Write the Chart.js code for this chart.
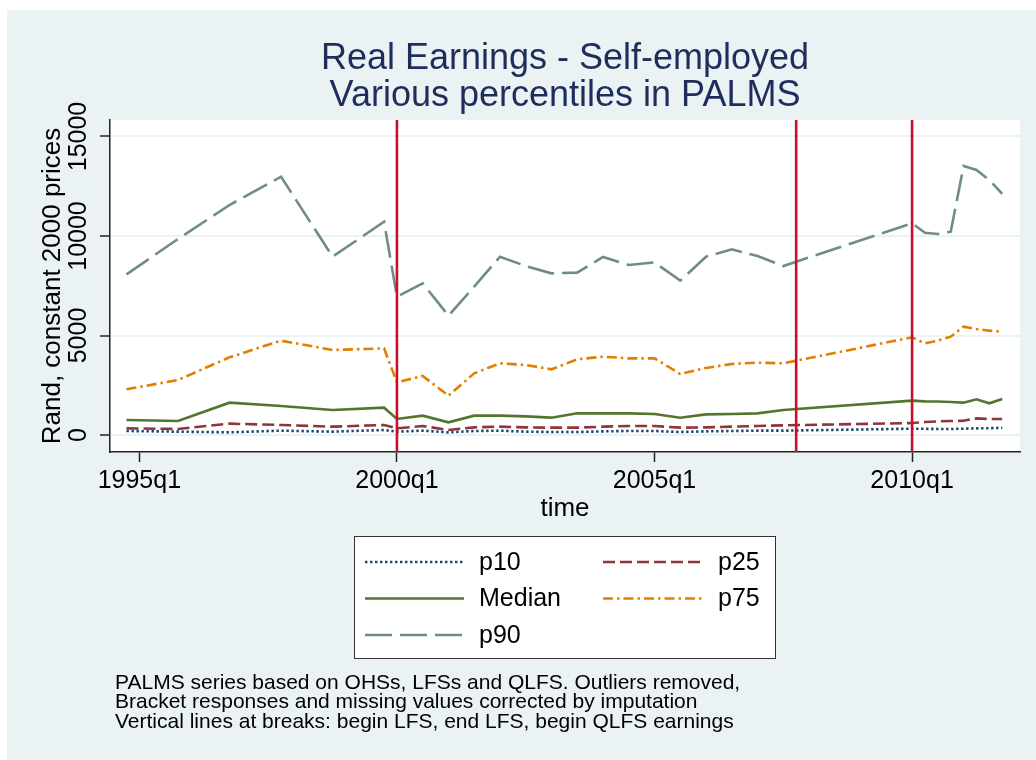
<!DOCTYPE html>
<html>
<head>
<meta charset="utf-8">
<title>Real Earnings - Self-employed</title>
<script src="https://cdn.jsdelivr.net/npm/chart.js@4.4.1/dist/chart.umd.min.js"></script>
<style>
  html, body { margin: 0; padding: 0; background: #fff; }
  #wrap { width: 1036px; height: 760px; }
</style>
</head>
<body>
<div id="wrap"><canvas id="earnCanvas"></canvas></div>
<script>
// survey rounds: OHS yearly, LFS Feb/Sep, QLFS quarterly
var quarters = ['1994q4', '1995q4', '1996q4', '1997q4', '1998q4', '1999q4',
  '2000q1', '2000q3', '2001q1', '2001q3', '2002q1', '2002q3', '2003q1', '2003q3',
  '2004q1', '2004q3', '2005q1', '2005q3', '2006q1', '2006q3', '2007q1', '2007q3',
  '2010q1', '2010q2', '2010q3', '2010q4', '2011q1', '2011q2', '2011q3', '2011q4'];

var p10 = [201, 168, 134, 218, 168, 251,
  168, 218, 134, 201, 218, 168, 151, 151, 184, 201, 201, 151, 184, 201, 218, 218,
  318, 310, 305, 300, 318, 335, 340, 368];
var p25 = [335, 302, 570, 503, 419, 503,
  335, 452, 251, 385, 419, 385, 369, 369, 419, 452, 452, 369, 385, 419, 452, 486,
  600, 653, 687, 700, 720, 837, 804, 804];
var median = [754, 704, 1625, 1457, 1256, 1374,
  804, 972, 636, 972, 972, 938, 871, 1089, 1089, 1089, 1055, 871, 1038, 1055, 1089, 1256,
  1725, 1692, 1680, 1660, 1625, 1792, 1591, 1809];
var p75 = [2295, 2764, 3903, 4740, 4271, 4355,
  2647, 2965, 1976, 3099, 3601, 3518, 3300, 3803, 3936, 3853, 3853, 3065, 3370, 3568, 3635, 3601,
  4909, 4607, 4740, 4941, 5442, 5327, 5243, 5193];
var p90 = [8073, 9849, 11558, 12981, 8961, 10720,
  6951, 7621, 5997, 7454, 8961, 8492, 8124, 8158, 8945, 8543, 8677, 7755, 8961, 9330, 8995, 8492,
  10638, 10166, 10101, 10217, 13518, 13317, 12814, 12111];

// begin LFS, end LFS, begin QLFS earnings
var breaks = ['2000q1', '2007q4', '2010q1'];
var yTicks = [0, 5000, 10000, 15000];
var xTicks = ['1995q1', '2000q1', '2005q1', '2010q1'];

var titleLines = ['Real Earnings - Self-employed', 'Various percentiles in PALMS'];
var noteLines = [
  'PALMS series based on OHSs, LFSs and QLFS. Outliers removed,',
  'Bracket responses and missing values corrected by imputation',
  'Vertical lines at breaks: begin LFS, end LFS, begin QLFS earnings'
];

var FONT = '"Liberation Sans", Arial, sans-serif';
var BG = '#eaf2f3';

// stata %tq : 1960q1 = 0
function qNum(s) {
  var y = parseInt(s.substr(0, 4), 10);
  var q = parseInt(s.substr(5), 10);
  return (y - 1960) * 4 + q - 1;
}
function qLabel(n) {
  var y = 1960 + Math.floor(n / 4);
  return y + 'q' + (n - (y - 1960) * 4 + 1);
}

function series(label, vals, color, dash) {
  return {
    label: label,
    data: vals.map(function (v, i) { return { x: qNum(quarters[i]), y: v }; }),
    borderColor: color,
    borderWidth: 2.6,
    borderDash: dash,
    borderCapStyle: 'butt',
    pointRadius: 0,
    fill: false,
    tension: 0
  };
}

var bgPlugin = {
  id: 'stataBg',
  beforeDraw: function (chart) {
    var ctx = chart.ctx, a = chart.chartArea;
    ctx.save();
    ctx.fillStyle = '#fff';
    ctx.fillRect(0, 0, chart.width, chart.height);
    ctx.fillStyle = BG;
    ctx.fillRect(7, 10, chart.width - 7, chart.height - 10);
    ctx.fillStyle = '#fff';
    ctx.fillRect(a.left, a.top, a.right - a.left, a.bottom - a.top);
    ctx.restore();
  }
};

var breakPlugin = {
  id: 'breakLines',
  afterDatasetsDraw: function (chart) {
    var ctx = chart.ctx, a = chart.chartArea, xs = chart.scales.x;
    ctx.save();
    ctx.strokeStyle = '#c8102e';
    ctx.lineWidth = 2.6;
    breaks.forEach(function (b) {
      var px = xs.getPixelForValue(qNum(b));
      ctx.beginPath();
      ctx.moveTo(px, a.top);
      ctx.lineTo(px, a.bottom);
      ctx.stroke();
    });
    ctx.restore();
  }
};

var textPlugin = {
  id: 'stataText',
  afterDraw: function (chart) {
    var ctx = chart.ctx, a = chart.chartArea;
    var cx = (a.left + a.right) / 2;
    ctx.save();
    // title
    ctx.fillStyle = '#1e2d5c';
    ctx.font = '36px ' + FONT;
    ctx.textAlign = 'center';
    ctx.textBaseline = 'middle';
    titleLines.forEach(function (t, i) { ctx.fillText(t, cx, 59 + i * 37); });

    // legend box, two columns
    ctx.fillStyle = '#fff';
    ctx.fillRect(354.5, 536.5, 421, 122);
    ctx.strokeStyle = '#333';
    ctx.lineWidth = 1;
    ctx.strokeRect(354.5, 536.5, 421, 122);
    ctx.font = '25px ' + FONT;
    ctx.textAlign = 'left';
    chart.data.datasets.forEach(function (ds, i) {
      var col = i % 2, row = Math.floor(i / 2);
      var x0 = col ? 603 : 365;
      var y = 562 + row * 36.5;
      ctx.strokeStyle = ds.borderColor;
      ctx.lineWidth = ds.borderWidth;
      ctx.lineCap = 'butt';
      ctx.setLineDash(ds.borderDash || []);
      ctx.beginPath();
      ctx.moveTo(x0, y);
      ctx.lineTo(x0 + 99, y);
      ctx.stroke();
      ctx.setLineDash([]);
      ctx.fillStyle = '#000';
      ctx.fillText(ds.label, col ? 718 : 479, y + 1);
    });

    // note
    ctx.font = '21px ' + FONT;
    noteLines.forEach(function (t, i) { ctx.fillText(t, 115, 683 + i * 19.5); });
    ctx.restore();
  }
};

var ctx = document.getElementById('earnCanvas').getContext('2d');
var earnChart = new Chart(ctx, {
  type: 'line',
  data: {
    datasets: [
      series('p10', p10, '#1a476f', [2.4, 2.6]),
      series('p25', p25, '#90353b', [12, 5]),
      series('Median', median, '#55752f', []),
      series('p75', p75, '#e37e00', [10, 4, 2.5, 4]),
      series('p90', p90, '#6e8e84', [27, 8])
    ]
  },
  options: {
    responsive: true,
    maintainAspectRatio: false,
    animation: false,
    events: [],
    layout: { padding: { left: 7, top: 120, right: 16, bottom: 236 } },
    plugins: {
      legend: { display: false },
      tooltip: { enabled: false },
      title: { display: false }
    },
    scales: {
      x: {
        type: 'linear',
        bounds: 'data',
        min: 137.72,
        max: 208.38,
        afterBuildTicks: function (s) { s.ticks = xTicks.map(function (q) { return { value: qNum(q) }; }); },
        afterFit: function (s) { s.height = 72; },
        ticks: {
          autoSkip: false, minRotation: 0, maxRotation: 0, padding: 4, color: '#000',
          font: { family: FONT, size: 25 },
          callback: function (v) { return qLabel(v); }
        },
        grid: { drawOnChartArea: false, tickColor: '#222', tickLength: 10, tickWidth: 1.5 },
        border: { color: '#222', width: 1.5 },
        title: {
          display: true, text: 'time', color: '#000',
          font: { family: FONT, size: 26, lineHeight: 1.2 }, padding: { top: 0, bottom: 0 }
        }
      },
      y: {
        min: -854,
        max: 15829,
        bounds: 'data',
        afterBuildTicks: function (s) { s.ticks = yTicks.map(function (v) { return { value: v }; }); },
        afterFit: function (s) { s.width = 103; },
        ticks: {
          minRotation: 90, maxRotation: 90, crossAlign: 'center', padding: -13.5, color: '#000',
          font: { family: FONT, size: 25 },
          callback: function (v) { return String(v); }
        },
        grid: { color: BG, lineWidth: 2, tickColor: '#222', tickLength: 10, tickWidth: 1.5 },
        border: { color: '#222', width: 1.5 },
        title: {
          display: true, text: 'Rand, constant 2000 prices', color: '#000',
          font: { family: FONT, size: 26, lineHeight: 1.2 }, padding: { top: 30, bottom: 0 }
        }
      }
    }
  },
  plugins: [bgPlugin, breakPlugin, textPlugin]
});
</script>
</body>
</html>
